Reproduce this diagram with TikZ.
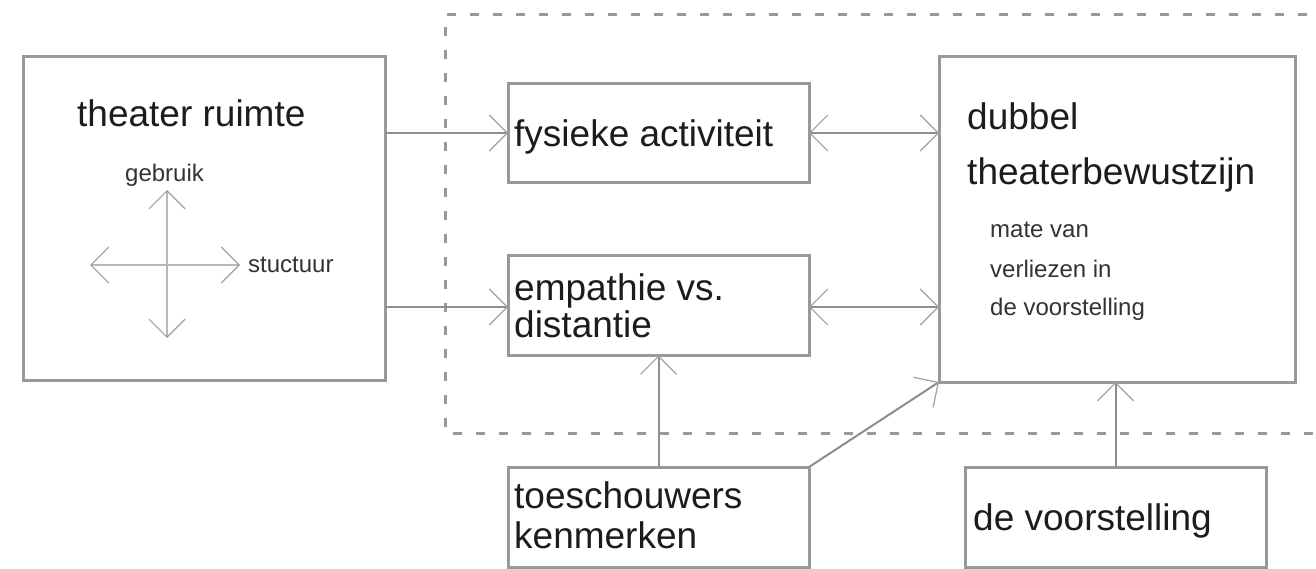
\documentclass[tikz,border=0pt]{standalone}
\usepackage{fontspec}
\setmainfont{Liberation Sans}
\usetikzlibrary{arrows.meta}
\definecolor{boxgray}{HTML}{999999}
\definecolor{linegray}{HTML}{8E8E8E}
\definecolor{barbgray}{HTML}{A0A0A0}
\definecolor{crossgray}{HTML}{B8B8B8}
\definecolor{txt}{HTML}{1C1C1C}
\begin{document}
\begin{tikzpicture}[x=1pt,y=-1pt,
  >={Straight Barb[length=18pt,width=36pt,line width=1.2pt,color=barbgray]},
  box/.style={draw=boxgray,line width=3pt,fill=white,inner sep=0pt,outer sep=0pt},
  conn/.style={draw=linegray,line width=2pt},
  crossline/.style={draw=crossgray,line width=2.5pt},
  bigtxt/.style={anchor=base west,inner sep=0pt,text=txt,font=\fontsize{37}{37}\selectfont},
  smalltxt/.style={anchor=base west,inner sep=0pt,text=txt!90,font=\fontsize{24}{24}\selectfont},
  dashframe/.style={draw=boxgray,line width=3pt,dash pattern=on 9pt off 14pt}]
\useasboundingbox (0,0) rectangle (1316,569);

% dashed frame around the audience experience part
\draw[dashframe] (1330,15) -- (445,15) -- (445,433) -- (1330,433);

% boxes
\node[box,minimum width=362pt,minimum height=323pt] (theater) at (204,218.5) {};
\node[box,minimum width=301pt,minimum height=99pt] (fys) at (658.5,133) {};
\node[box,minimum width=301pt,minimum height=100pt] (emp) at (658.5,305.5) {};
\node[box,minimum width=356pt,minimum height=325pt] (dub) at (1117,219.5) {};
\node[box,minimum width=301pt,minimum height=100pt] (toe) at (658.5,517) {};
\node[box,minimum width=301pt,minimum height=100pt] (voor) at (1115.5,517) {};

% texts
\node[bigtxt] (tTheater) at (77,127) {theater ruimte};
\node[bigtxt] (tFys) at (514,147) {fysieke activiteit};
\node[bigtxt] (tEmp1) at (514,300) {empathie vs.};
\node[bigtxt] (tEmp2) at (514,337) {distantie};
\node[bigtxt] (tDub1) at (967,130) {dubbel};
\node[bigtxt] (tDub2) at (967,185) {theaterbewustzijn};
\node[smalltxt] (tMate1) at (990,238) {mate van};
\node[smalltxt] (tMate2) at (990,277) {verliezen in};
\node[smalltxt] (tMate3) at (990,315) {de voorstelling};
\node[bigtxt] (tToe1) at (514,508) {toeschouwers};
\node[bigtxt] (tToe2) at (514,548) {kenmerken};
\node[bigtxt] (tVoor) at (973,530) {de voorstelling};

% cross of use and structure inside the theatre space
\coordinate (cTop) at (167,190);
\coordinate (cBot) at (167,338);
\coordinate (cLeft) at (90,265);
\coordinate (cRight) at (240,265);
\draw[crossline,<->] (cLeft) -- (cRight);
\draw[conn,draw=crossgray,<->] (cTop) -- (cBot);
\node[smalltxt] (tGebruik) at (125,182) {gebruik};
\node[smalltxt,anchor=west] (tStruct) at (248,265) {stuctuur};

% connectors
\draw[conn,->] (theater.east |- fys.west) -- (fys.west);
\draw[conn,->] (theater.east |- 0,307) -- (emp.west |- 0,307);
\draw[conn,<->] (fys.east) -- (dub.west |- fys.east);
\draw[conn,<->] (emp.east |- 0,307) -- (dub.west |- 0,307);
\draw[conn,->] (toe.north) -- (emp.south);
\draw[conn,->] (toe.north east) -- (dub.south west);
\draw[conn,->] (voor.north) -- (voor.north |- dub.south);
\end{tikzpicture}
\end{document}
